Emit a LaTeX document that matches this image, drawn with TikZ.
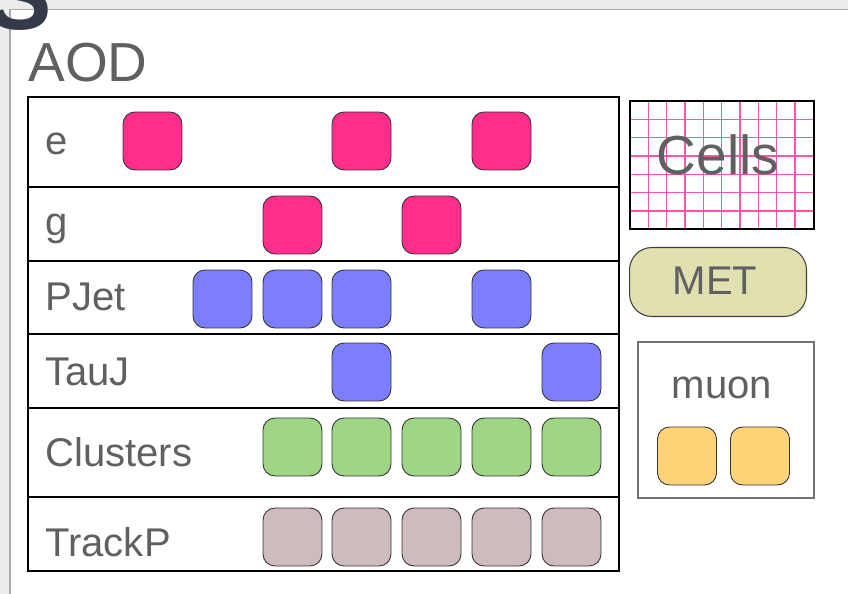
\documentclass[tikz,border=0pt]{standalone}
\usepackage{fontspec}
\setmainfont{Liberation Sans}
\usetikzlibrary{shapes}
\definecolor{elpink}{RGB}{255,45,140}
\definecolor{jetblue}{RGB}{123,127,255}
\definecolor{clusgreen}{RGB}{158,214,133}
\definecolor{trkmauve}{RGB}{205,187,190}
\definecolor{muorange}{RGB}{255,212,121}
\definecolor{metolive}{RGB}{224,224,176}
\definecolor{txtgray}{RGB}{96,96,96}
\definecolor{gridpink}{RGB}{255,85,168}
\definecolor{sdark}{RGB}{52,58,74}
\definecolor{framegray}{RGB}{236,236,236}
\definecolor{frameline}{RGB}{170,170,170}
\tikzset{
  obj/.style={
    rectangle, draw=black!80, line width=0.5pt, rounded corners=0.24cm,
    minimum width=1.18cm, minimum height=1.16cm, inner sep=0pt,
  },
  elobj/.style={obj, fill=elpink},
  jetobj/.style={obj, fill=jetblue},
  clusobj/.style={obj, fill=clusgreen},
  trkobj/.style={obj, fill=trkmauve},
  muobj/.style={obj, fill=muorange},
  rowlabel/.style={
    anchor=base west, inner sep=0pt, text=txtgray,
    font=\fontsize{22.8}{26}\selectfont,
  },
  biglabel/.style={
    inner sep=0pt, text=txtgray,
    font=\fontsize{31.3}{36}\selectfont,
  },
  tableline/.style={draw=black, line width=0.7pt},
  cellline/.style={draw=gridpink, line width=0.9pt},
  metbox/.style={
    rectangle, draw=black!75, line width=0.6pt, fill=metolive,
    rounded corners=0.45cm, minimum width=3.54cm, minimum height=1.38cm,
  },
}

\begin{document}
\begin{tikzpicture}[x=0.02cm, y=-0.02cm]

  \useasboundingbox (0,0) rectangle (848,594);
  \clip (0,0) rectangle (848,594);
  \fill[white] (0,0) rectangle (848,594);

  % window frame
  \fill[framegray] (0,0) rectangle (848,9);
  \fill[framegray] (0,0) rectangle (10,594);
  \draw[frameline, line width=0.8pt] (10,9.5) -- (848,9.5);
  \draw[frameline, line width=0.8pt] (10,9.5) -- (10,594);
  \node[anchor=base west, inner sep=0pt, text=sdark,
        font=\bfseries\fontsize{55}{55}\selectfont] (sglyph) at (-13,30) {S};

  \node[biglabel, anchor=base west] (aod) at (28,82) {AOD};

  % AOD table
  \draw[tableline] (28,97) rectangle (619,571);
  \draw[tableline] (28,187) -- (619,187);
  \draw[tableline] (28,261) -- (619,261);
  \draw[tableline] (28,334) -- (619,334);
  \draw[tableline] (28,408) -- (619,408);
  \draw[tableline] (28,497) -- (619,497);

  \node[rowlabel] (le)    at (45,155) {e};
  \node[rowlabel] (lg)    at (45,236) {g};
  \node[rowlabel] (ljet)  at (45,311) {PJet};
  \node[rowlabel] (ltau)  at (45,385) {TauJ};
  \node[rowlabel] (lclus) at (45,466) {Clusters};
  \node[rowlabel] (ltrk)  at (45,556) {TrackP};

  \node[elobj]   (e1) at (152.5,141) {};
  \node[elobj]   (e2) at (361.5,141) {};
  \node[elobj]   (e3) at (501.5,141) {};

  \node[elobj]   (g1) at (292.5,225) {};
  \node[elobj]   (g2) at (431.5,225) {};

  \node[jetobj]  (j1) at (222.5,299) {};
  \node[jetobj]  (j2) at (292.5,299) {};
  \node[jetobj]  (j3) at (361.5,299) {};
  \node[jetobj]  (j4) at (501.5,299) {};

  \node[jetobj]  (t1) at (361.5,372) {};
  \node[jetobj]  (t2) at (571.5,372) {};

  \node[clusobj] (c1) at (292.5,447) {};
  \node[clusobj] (c2) at (361.5,447) {};
  \node[clusobj] (c3) at (431.5,447) {};
  \node[clusobj] (c4) at (501.5,447) {};
  \node[clusobj] (c5) at (571.5,447) {};

  \node[trkobj]  (k1) at (292.5,537) {};
  \node[trkobj]  (k2) at (361.5,537) {};
  \node[trkobj]  (k3) at (431.5,537) {};
  \node[trkobj]  (k4) at (501.5,537) {};
  \node[trkobj]  (k5) at (571.5,537) {};

  % Cells
  \foreach \gx in {1,...,9}
    \draw[cellline] (630+\gx*18.33,101) -- (630+\gx*18.33,229);
  \foreach \gy in {1,...,6}
    \draw[cellline] (630,101+\gy*18.33) -- (814,101+\gy*18.33);
  \draw[draw=black, line width=1.2pt] (630,101) rectangle (814,229);
  \node[biglabel, anchor=base] (cells) at (718,175) {Cells};

  % MET
  \node[metbox] (met) at (718,282) {};
  \node[rowlabel, anchor=base] (metlbl) at (715,295) {MET};

  % muon
  \draw[draw=black!55, line width=0.6pt] (638,342) rectangle (814,498);
  \node[rowlabel, anchor=base] (mulbl) at (722,398) {muon};
  \node[muobj] (m1) at (687,456) {};
  \node[muobj] (m2) at (760,456) {};

\end{tikzpicture}
\end{document}
